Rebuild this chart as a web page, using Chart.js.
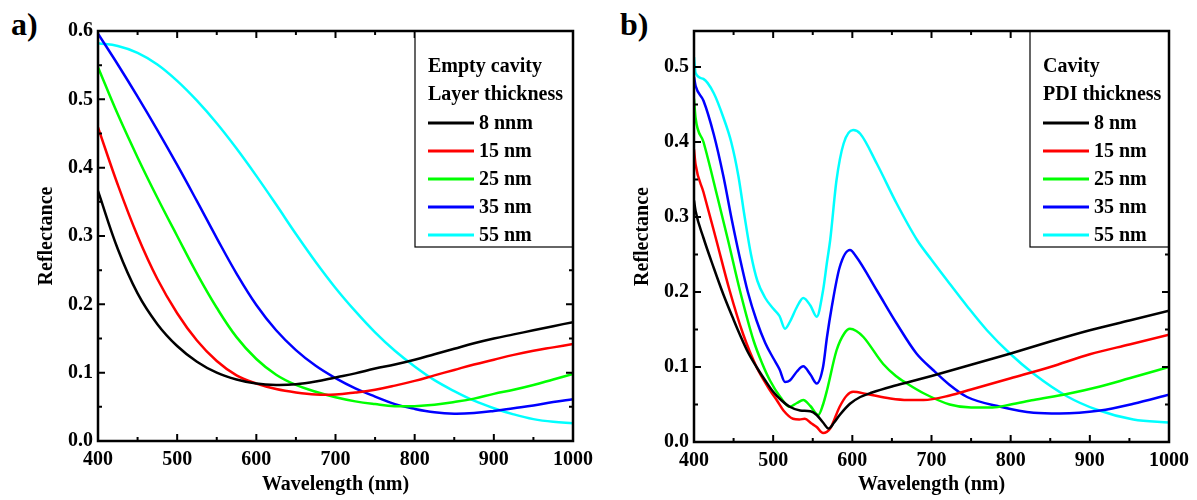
<!DOCTYPE html>
<html>
<head>
<meta charset="utf-8">
<script src="https://cdn.jsdelivr.net/npm/chart.js@4.4.1/dist/chart.umd.min.js"></script>
<style>
  body {
    margin: 0;
    background: #fff;
    width: 1197px;
    height: 500px;
    overflow: hidden;
    position: relative;
    font-family: 'Liberation Serif', 'Times New Roman', serif;
  }
  .panel { position: absolute; top: 0; height: 500px; }
  #boxA { left: 0; width: 600px; }
  #boxB { left: 600px; width: 597px; }
  .tag { position: absolute; font-weight: bold; font-size: 32px; line-height: 1; }
</style>
</head>
<body>
<div class="tag" style="left:11px;top:8px">a)</div>
<div class="tag" style="left:620px;top:8px">b)</div>
<div class="panel" id="boxA"><canvas id="chartA"></canvas></div>
<div class="panel" id="boxB"><canvas id="chartB"></canvas></div>
<script>
// Panel a) empty cavity, one shared wavelength grid
const waveA = [400, 425, 450, 475, 500, 525, 550, 575, 600, 625, 650, 675, 700,
  725, 750, 775, 800, 825, 850, 875, 900, 925, 950, 975, 1000];
const a8 = [0.366, 0.281, 0.216, 0.171, 0.139, 0.116, 0.100, 0.090, 0.084, 0.082, 0.083, 0.087, 0.093,
  0.099, 0.106, 0.112, 0.119, 0.127, 0.135, 0.143, 0.150, 0.156, 0.162, 0.168, 0.174];
const a15 = [0.459, 0.375, 0.30, 0.237, 0.187, 0.147, 0.117, 0.096, 0.084, 0.076, 0.071, 0.068, 0.068,
  0.071, 0.075, 0.081, 0.088, 0.096, 0.104, 0.112, 0.119, 0.126, 0.132, 0.137, 0.142];
const a25 = [0.547, 0.478, 0.415, 0.356, 0.30, 0.245, 0.195, 0.152, 0.12, 0.097, 0.082, 0.072, 0.064,
  0.058, 0.054, 0.051, 0.051, 0.053, 0.057, 0.062, 0.069, 0.075, 0.082, 0.090, 0.098];
const a35 = [0.596, 0.551, 0.504, 0.455, 0.404, 0.351, 0.297, 0.245, 0.199, 0.162, 0.133, 0.110, 0.092,
  0.077, 0.065, 0.054, 0.047, 0.042, 0.040, 0.041, 0.044, 0.048, 0.052, 0.057, 0.061];
const a55 = [0.582, 0.578, 0.568, 0.551, 0.527, 0.498, 0.465, 0.428, 0.388, 0.346, 0.303, 0.262, 0.224,
  0.19, 0.159, 0.132, 0.109, 0.089, 0.073, 0.059, 0.048, 0.039, 0.032, 0.028, 0.026];

// Panel b) cavity with PDI, [wavelength, reflectance] pairs
const b8 = [[400, 0.322], [402, 0.308], [412, 0.272], [425, 0.232], [437, 0.197], [450, 0.163], [458, 0.143],
  [468, 0.12], [479, 0.1], [490, 0.082], [500, 0.067], [510, 0.056], [521, 0.047], [534, 0.042],
  [547, 0.041], [555, 0.036], [563, 0.026], [570, 0.018], [577, 0.026], [584, 0.036], [597, 0.051],
  [610, 0.06], [625, 0.066], [650, 0.074], [675, 0.081], [700, 0.088], [750, 0.103], [800, 0.118],
  [850, 0.134], [900, 0.149], [950, 0.162], [1000, 0.175]];
const b15 = [[400, 0.39], [402, 0.37], [412, 0.333], [428, 0.27], [445, 0.202], [462, 0.144], [479, 0.10],
  [496, 0.069], [505, 0.055], [513, 0.042], [525, 0.031], [533, 0.030], [540, 0.031], [548, 0.025],
  [555, 0.02], [563, 0.012], [572, 0.018], [584, 0.047], [593, 0.062], [601, 0.067], [618, 0.064],
  [648, 0.058], [670, 0.056], [690, 0.056], [723, 0.062], [750, 0.07], [800, 0.085], [850, 0.1],
  [900, 0.117], [950, 0.13], [1000, 0.143]];
const b25 = [[400, 0.458], [402, 0.432], [412, 0.40], [430, 0.325], [443, 0.269], [458, 0.202], [475, 0.136],
  [486, 0.105], [496, 0.082], [509, 0.06], [521, 0.047], [530, 0.052], [538, 0.056], [547, 0.048],
  [557, 0.036], [563, 0.05], [568, 0.069], [580, 0.122], [590, 0.145], [597, 0.151], [605, 0.148],
  [614, 0.14], [639, 0.104], [655, 0.088], [669, 0.078], [690, 0.065], [723, 0.05], [750, 0.046],
  [777, 0.046], [800, 0.05], [829, 0.056], [871, 0.064], [913, 0.074], [950, 0.085], [1000, 0.1]];
const b35 = [[400, 0.487], [402, 0.475], [412, 0.455], [425, 0.41], [437, 0.355], [448, 0.295], [458, 0.245],
  [468, 0.20], [479, 0.162], [490, 0.132], [500, 0.112], [508, 0.097], [515, 0.08], [521, 0.082],
  [530, 0.094], [538, 0.101], [547, 0.09], [555, 0.078], [563, 0.1], [568, 0.14], [574, 0.18],
  [584, 0.233], [597, 0.256], [605, 0.247], [631, 0.202], [656, 0.158], [681, 0.118], [702, 0.096],
  [723, 0.076], [745, 0.06], [787, 0.047], [829, 0.039], [862, 0.038], [913, 0.042], [955, 0.051],
  [1000, 0.063]];
const b55 = [[400, 0.513], [402, 0.492], [412, 0.484], [425, 0.465], [437, 0.433], [447, 0.40], [456, 0.355],
  [464, 0.30], [472, 0.25], [480, 0.215], [490, 0.192], [500, 0.178], [508, 0.168], [515, 0.151],
  [521, 0.16], [530, 0.18], [538, 0.192], [547, 0.182], [555, 0.167], [563, 0.202], [568, 0.24],
  [572, 0.269], [580, 0.349], [589, 0.398], [601, 0.416], [610, 0.411], [631, 0.371], [656, 0.318],
  [682, 0.269], [700, 0.243], [723, 0.211], [745, 0.181], [770, 0.149], [799, 0.118], [829, 0.091],
  [871, 0.061], [909, 0.043], [955, 0.03], [1000, 0.026]];

const colors = ['#000000', '#ff0000', '#00ff00', '#0000ff', '#00ffff'];
const labelsA = ['8 nnm', '15 nm', '25 nm', '35 nm', '55 nm'];
const labelsB = ['8 nm', '15 nm', '25 nm', '35 nm', '55 nm'];

const serif = "'Liberation Serif', 'Times New Roman', serif";
Chart.defaults.font.family = serif;
Chart.defaults.color = '#000';

// frame, inward ticks on all four sides and the boxed legend
const framePlugin = {
  id: 'frame',
  afterDatasetsDraw(chart, args, opts) {
    const { ctx, chartArea: a, scales } = chart;
    const x = scales.x, y = scales.y;
    ctx.save();
    ctx.strokeStyle = '#000';
    ctx.lineWidth = 2;
    ctx.beginPath();
    let i = 0;
    for (let v = x.min; v <= x.max + 1e-6; v += opts.xMinor, i++) {
      const px = x.getPixelForValue(v);
      const len = i % 2 === 0 ? 7 : 4;
      ctx.moveTo(px, a.bottom); ctx.lineTo(px, a.bottom - len);
      ctx.moveTo(px, a.top); ctx.lineTo(px, a.top + len);
    }
    i = 0;
    for (let v = y.min; v <= y.max + 1e-6; v += opts.yMinor, i++) {
      const py = y.getPixelForValue(v);
      const len = i % 2 === 0 ? 7 : 4;
      ctx.moveTo(a.left, py); ctx.lineTo(a.left + len, py);
      ctx.moveTo(a.right, py); ctx.lineTo(a.right - len, py);
    }
    ctx.stroke();

    // legend box against the right edge of the plot
    const lg = opts.legend;
    const bx = a.right - lg.width;
    const by = a.top;
    ctx.fillStyle = '#fff';
    ctx.fillRect(bx, by, lg.width, lg.height);
    ctx.lineWidth = 1.2;
    ctx.strokeRect(bx, by, lg.width, lg.height);
    ctx.font = 'bold 20px ' + serif;
    ctx.fillStyle = '#000';
    ctx.textBaseline = 'middle';
    let row = by + 36;
    lg.title.forEach(t => {
      ctx.fillText(t, bx + 13, row);
      row += 28;
    });
    ctx.lineWidth = 3;
    chart.data.datasets.forEach(ds => {
      ctx.strokeStyle = ds.borderColor;
      ctx.beginPath();
      ctx.moveTo(bx + 13, row);
      ctx.lineTo(bx + 59, row);
      ctx.stroke();
      ctx.fillText(ds.label, bx + 64, row + 1);
      row += 28;
    });

    // plot border
    ctx.strokeStyle = '#000';
    ctx.lineWidth = 2.5;
    ctx.strokeRect(a.left, a.top, a.right - a.left, a.bottom - a.top);
    ctx.restore();
  }
};

function makeOptions(cfg) {
  return {
    responsive: true,
    maintainAspectRatio: false,
    animation: false,
    layout: { padding: { left: 0, top: 31, right: cfg.padRight, bottom: 0 } },
    elements: {
      point: { radius: 0 },
      line: { borderWidth: 2.5, cubicInterpolationMode: cfg.curve, tension: 0.4 }
    },
    plugins: {
      legend: { display: false },
      tooltip: { enabled: false },
      frame: { xMinor: 50, yMinor: 0.05, legend: { width: cfg.legendWidth, height: 216, title: cfg.legendTitle } }
    },
    scales: {
      x: {
        type: 'linear', min: 400, max: 1000,
        grid: { display: false, drawTicks: false },
        border: { display: false },
        ticks: {
          stepSize: 100, padding: 7, maxRotation: 0, color: '#000',
          font: { size: 20, weight: 'bold' },
          callback: v => String(v)
        },
        title: {
          display: true, text: 'Wavelength (nm)', color: '#000',
          font: { size: 20, weight: 'bold' }, padding: { top: 0, bottom: 3 }
        },
        afterFit: s => { s.height = cfg.xHeight; }
      },
      y: {
        min: 0, max: cfg.yMax,
        grid: { display: false, drawTicks: false },
        border: { display: false },
        ticks: {
          stepSize: 0.1, includeBounds: false, padding: 5, color: '#000',
          font: { size: 20, weight: 'bold' },
          callback: v => v.toFixed(1)
        },
        title: {
          display: true, text: 'Reflectance', color: '#000',
          font: { size: 20, weight: 'bold' }, padding: { top: cfg.titlePad, bottom: 0 }
        },
        afterFit: s => { s.width = cfg.yWidth; }
      }
    }
  };
}

const dataA = {
  datasets: [a8, a15, a25, a35, a55].map((vals, k) => ({
    label: labelsA[k],
    data: waveA.map((w, i) => ({ x: w, y: vals[i] })),
    borderColor: colors[k],
    fill: false
  }))
};

const dataB = {
  datasets: [b8, b15, b25, b35, b55].map((pts, k) => ({
    label: labelsB[k],
    data: pts.map(p => ({ x: p[0], y: p[1] })),
    borderColor: colors[k],
    fill: false
  }))
};

new Chart(document.getElementById('chartA'), {
  type: 'line',
  data: dataA,
  options: makeOptions({
    padRight: 26, xHeight: 59, yWidth: 98, yMax: 0.6, titlePad: 35, curve: 'default',
    legendWidth: 158, legendTitle: ['Empty cavity', 'Layer thickness']
  }),
  plugins: [framePlugin]
});

new Chart(document.getElementById('chartB'), {
  type: 'line',
  data: dataB,
  options: makeOptions({
    padRight: 28, xHeight: 58, yWidth: 94, yMax: 0.548, titlePad: 31, curve: 'monotone',
    legendWidth: 139, legendTitle: ['Cavity', 'PDI thickness']
  }),
  plugins: [framePlugin]
});
</script>
</body>
</html>
